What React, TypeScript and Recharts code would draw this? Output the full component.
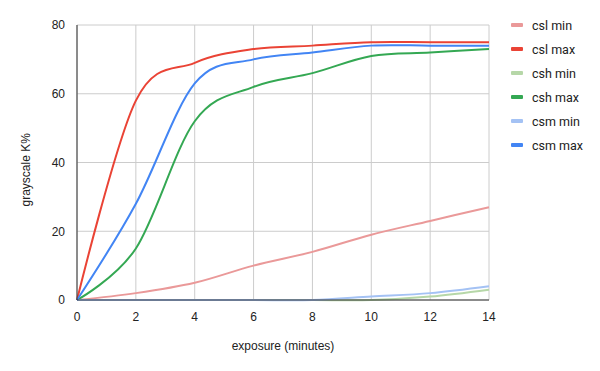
import { LineChart, Line, XAxis, YAxis, CartesianGrid } from 'recharts';

const minutes = [0, 2, 4, 6, 8, 10, 12, 14];
const cslMin = [0, 2, 5, 10, 14, 19, 23, 27];
const cslMax = [0, 58, 69, 73, 74, 75, 75, 75];
const cshMin = [0, 0, 0, 0, 0, 0, 1, 3];
const cshMax = [0, 15, 52, 62, 66, 71, 72, 73];
const csmMin = [0, 0, 0, 0, 0, 1, 2, 4];
const csmMax = [0, 28, 63, 70, 72, 74, 74, 74];

const xTicks = [0, 2, 4, 6, 8, 10, 12, 14];
const yTicks = [0, 20, 40, 60, 80];

const series = [
  { key: 'cslMin', name: 'csl min', color: '#ea9999' },
  { key: 'cslMax', name: 'csl max', color: '#ea4335' },
  { key: 'cshMin', name: 'csh min', color: '#b6d7a8' },
  { key: 'cshMax', name: 'csh max', color: '#34a853' },
  { key: 'csmMin', name: 'csm min', color: '#a4c2f4' },
  { key: 'csmMax', name: 'csm max', color: '#4285f4' },
];

const data = minutes.map((m, i) => ({
  minutes: m,
  cslMin: cslMin[i],
  cslMax: cslMax[i],
  cshMin: cshMin[i],
  cshMax: cshMax[i],
  csmMin: csmMin[i],
  csmMax: csmMax[i],
}));

const axisFont = '"Liberation Sans", Arial, sans-serif';
const legendFont = 'Roboto, Arial, sans-serif';

// Catmull-Rom style smoothing (cardinal, tension 0), closer to the sheets "smooth" line
function smoothCurve(context: any) {
  const k = 1 / 6;
  let x0 = NaN, x1 = NaN, x2 = NaN, y0 = NaN, y1 = NaN, y2 = NaN;
  let n = 0;
  let line = NaN;
  const seg = (x: number, y: number) => {
    context.bezierCurveTo(x1 + k * (x2 - x0), y1 + k * (y2 - y0), x2 + k * (x1 - x), y2 + k * (y1 - y), x2, y2);
  };
  return {
    areaStart() { line = 0; },
    areaEnd() { line = NaN; },
    lineStart() { x0 = x1 = x2 = y0 = y1 = y2 = NaN; n = 0; },
    lineEnd() {
      if (n === 2) context.lineTo(x2, y2);
      else if (n === 3) seg(x1, y1);
      if (line || (line !== 0 && n === 1)) context.closePath();
      line = 1 - line;
    },
    point(x: number, y: number) {
      x = +x; y = +y;
      if (n === 0) {
        n = 1;
        if (line) context.lineTo(x, y); else context.moveTo(x, y);
      } else if (n === 1) {
        n = 2; x1 = x; y1 = y;
      } else {
        n = 3;
        seg(x, y);
      }
      x0 = x1; x1 = x2; x2 = x;
      y0 = y1; y1 = y2; y2 = y;
    },
  };
}

export default function App() {
  return (
    <div style={{ position: 'fixed', left: 0, top: 0, width: 600, height: 371, background: '#fff' }}>
      <LineChart width={600} height={371} data={data} margin={{ top: 25, right: 111, bottom: 41, left: 37 }}>
        <CartesianGrid stroke="#cccccc" strokeWidth={1} />
        <XAxis
          dataKey="minutes"
          type="number"
          domain={[0, 14]}
          ticks={xTicks}
          tick={{ fill: '#222', fontSize: 12, fontFamily: axisFont }}
          axisLine={{ stroke: '#333' }}
          tickLine={false}
          tickMargin={6}
          label={{ value: 'exposure (minutes)', position: 'insideBottom', offset: -20, fill: '#222', fontSize: 12, fontFamily: axisFont }}
        />
        <YAxis
          type="number"
          domain={[0, 80]}
          ticks={yTicks}
          width={40}
          tick={{ fill: '#222', fontSize: 12, fontFamily: axisFont }}
          axisLine={{ stroke: '#333' }}
          tickLine={false}
          tickMargin={6}
          label={{ value: 'grayscale K%', angle: -90, position: 'insideLeft', offset: -11, dy: 44, fill: '#222', fontSize: 12, fontFamily: axisFont }}
        />
        {series.map((s) => (
          <Line
            key={s.key}
            dataKey={s.key}
            name={s.name}
            type={smoothCurve as any}
            stroke={s.color}
            strokeWidth={2}
            dot={false}
            isAnimationActive={false}
          />
        ))}
      </LineChart>
      <div style={{ position: 'absolute', left: 511, top: 13, fontFamily: legendFont, fontSize: 12.5, color: '#222' }}>
        {series.map((s) => (
          <div key={s.key} style={{ display: 'flex', alignItems: 'center', height: 24 }}>
            <div style={{ width: 12, height: 4, borderRadius: 1, background: s.color, marginRight: 9 }} />
            <span>{s.name}</span>
          </div>
        ))}
      </div>
    </div>
  );
}
